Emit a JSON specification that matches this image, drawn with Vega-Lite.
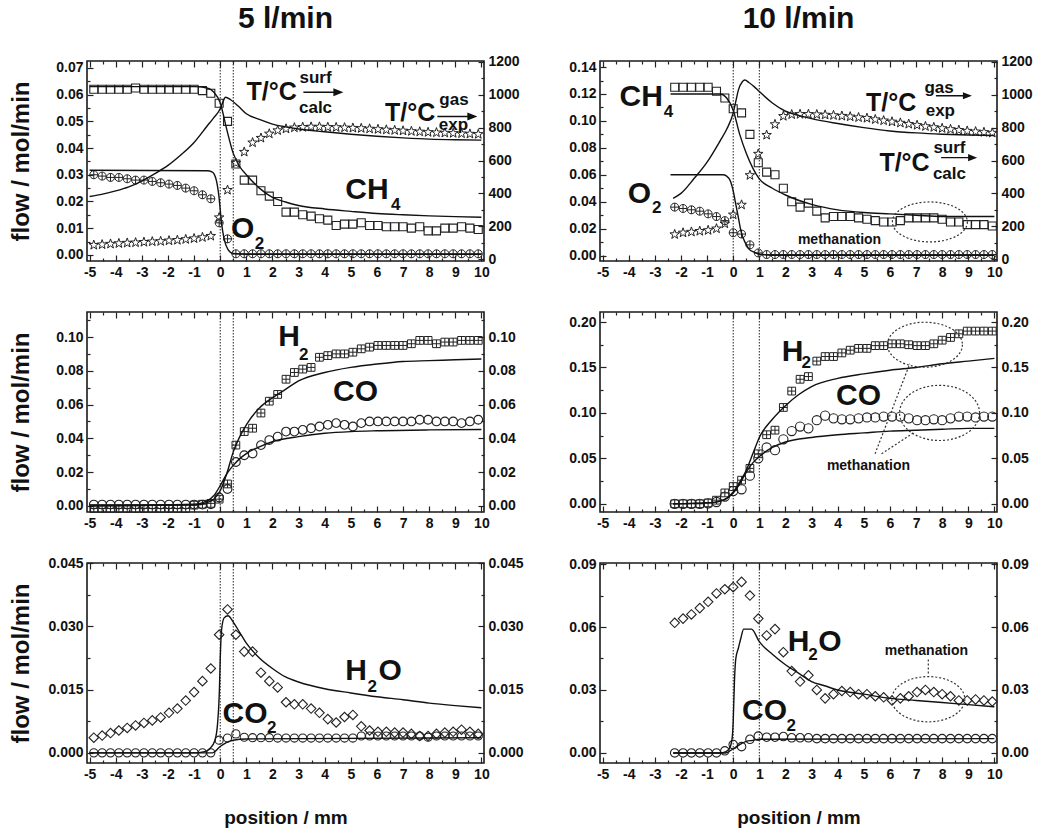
{
"$schema":"https://vega.github.io/schema/vega-lite/v6.json",
"background":"white",
"padding":{"left":8,"top":3,"right":5,"bottom":2},
"config":{"font":"Liberation Sans","view":{"stroke":"#1a1a1a","strokeWidth":1.6},
"axis":{"domain":false,"grid":false,"labelFont":"Liberation Sans","labelFontWeight":"bold","labelFontSize":14,"labelColor":"#111","tickColor":"#222","tickWidth":1.2,"titleFont":"Liberation Sans","titleFontWeight":"bold","titleFontSize":24,"titleColor":"#111"}},
"datasets":{
"e5":[
{"x":-4.84,"ch4":0.062,"o2":0.03,"tg":85,"h2":-0.0015,"co":0.0008,"h2o":0.0036,"co2":0},
{"x":-4.52,"ch4":0.062,"o2":0.0295,"tg":88,"h2":-0.0015,"co":0.0008,"h2o":0.0041,"co2":0},
{"x":-4.2,"ch4":0.062,"o2":0.029,"tg":92,"h2":-0.0015,"co":0.0008,"h2o":0.0047,"co2":0},
{"x":-3.88,"ch4":0.062,"o2":0.029,"tg":95,"h2":-0.0015,"co":0.0008,"h2o":0.0053,"co2":0},
{"x":-3.56,"ch4":0.062,"o2":0.0285,"tg":98,"h2":-0.0015,"co":0.0008,"h2o":0.0059,"co2":0},
{"x":-3.24,"ch4":0.0625,"o2":0.028,"tg":100,"h2":-0.0015,"co":0.0008,"h2o":0.0065,"co2":0},
{"x":-2.92,"ch4":0.062,"o2":0.028,"tg":103,"h2":-0.0015,"co":0.0008,"h2o":0.0071,"co2":0},
{"x":-2.6,"ch4":0.062,"o2":0.0275,"tg":106,"h2":-0.0015,"co":0.0008,"h2o":0.0077,"co2":0},
{"x":-2.28,"ch4":0.062,"o2":0.027,"tg":108,"h2":-0.0015,"co":0.0008,"h2o":0.0084,"co2":0},
{"x":-1.96,"ch4":0.062,"o2":0.0265,"tg":112,"h2":-0.0015,"co":0.0008,"h2o":0.0095,"co2":0},
{"x":-1.64,"ch4":0.062,"o2":0.026,"tg":115,"h2":-0.0015,"co":0.0008,"h2o":0.0105,"co2":0},
{"x":-1.32,"ch4":0.062,"o2":0.025,"tg":120,"h2":-0.0015,"co":0.0008,"h2o":0.0124,"co2":0},
{"x":-1,"ch4":0.062,"o2":0.024,"tg":125,"h2":0.0005,"co":0.0008,"h2o":0.0144,"co2":0},
{"x":-0.68,"ch4":0.0615,"o2":0.0225,"tg":132,"h2":0.001,"co":0.0008,"h2o":0.017,"co2":0},
{"x":-0.36,"ch4":0.0605,"o2":0.021,"tg":140,"h2":0.0015,"co":0.001,"h2o":0.02,"co2":0},
{"x":-0.04,"ch4":0.0568,"o2":0.012,"tg":253,"h2":0.004,"co":0.005,"h2o":0.028,"co2":0.003},
{"x":0.28,"ch4":0.05,"o2":0.006,"tg":420,"h2":0.013,"co":0.01,"h2o":0.034,"co2":0.0035},
{"x":0.6,"ch4":0.034,"o2":0.0004,"tg":585,"h2":0.036,"co":0.026,"h2o":0.028,"co2":0.0045},
{"x":0.92,"ch4":0.028,"o2":0.0004,"tg":652,"h2":0.044,"co":0.03,"h2o":0.024,"co2":0.0037},
{"x":1.24,"ch4":0.028,"o2":0.0004,"tg":709,"h2":0.046,"co":0.031,"h2o":0.024,"co2":0.0036},
{"x":1.56,"ch4":0.024,"o2":0.0004,"tg":737,"h2":0.055,"co":0.036,"h2o":0.019,"co2":0.0036},
{"x":1.88,"ch4":0.022,"o2":0.0004,"tg":763,"h2":0.062,"co":0.039,"h2o":0.017,"co2":0.0036},
{"x":2.2,"ch4":0.02,"o2":0.0004,"tg":783,"h2":0.066,"co":0.041,"h2o":0.0155,"co2":0.0035},
{"x":2.52,"ch4":0.016,"o2":0.0004,"tg":793,"h2":0.075,"co":0.044,"h2o":0.012,"co2":0.0035},
{"x":2.84,"ch4":0.016,"o2":0.0004,"tg":800,"h2":0.079,"co":0.044,"h2o":0.0115,"co2":0.0035},
{"x":3.16,"ch4":0.015,"o2":0.0004,"tg":803,"h2":0.081,"co":0.045,"h2o":0.0115,"co2":0.0035},
{"x":3.48,"ch4":0.0145,"o2":0.0004,"tg":805,"h2":0.082,"co":0.046,"h2o":0.0105,"co2":0.0035},
{"x":3.8,"ch4":0.0135,"o2":0.0004,"tg":805,"h2":0.088,"co":0.047,"h2o":0.0095,"co2":0.0035},
{"x":4.12,"ch4":0.013,"o2":0.0004,"tg":803,"h2":0.089,"co":0.048,"h2o":0.008,"co2":0.0035},
{"x":4.44,"ch4":0.011,"o2":0.0004,"tg":802,"h2":0.09,"co":0.049,"h2o":0.0072,"co2":0.0035},
{"x":4.76,"ch4":0.0115,"o2":0.0004,"tg":800,"h2":0.09,"co":0.048,"h2o":0.0085,"co2":0.0035},
{"x":5.08,"ch4":0.0115,"o2":0.0004,"tg":798,"h2":0.091,"co":0.047,"h2o":0.009,"co2":0.0035},
{"x":5.4,"ch4":0.012,"o2":0.0004,"tg":796,"h2":0.093,"co":0.049,"h2o":0.0063,"co2":0.004},
{"x":5.72,"ch4":0.011,"o2":0.0004,"tg":793,"h2":0.094,"co":0.05,"h2o":0.0053,"co2":0.004},
{"x":6.04,"ch4":0.011,"o2":0.0004,"tg":790,"h2":0.095,"co":0.05,"h2o":0.005,"co2":0.004},
{"x":6.36,"ch4":0.0105,"o2":0.0004,"tg":787,"h2":0.095,"co":0.05,"h2o":0.005,"co2":0.004},
{"x":6.68,"ch4":0.0105,"o2":0.0004,"tg":784,"h2":0.095,"co":0.05,"h2o":0.0048,"co2":0.004},
{"x":7,"ch4":0.0105,"o2":0.0004,"tg":781,"h2":0.095,"co":0.05,"h2o":0.0048,"co2":0.004},
{"x":7.32,"ch4":0.01,"o2":0.0004,"tg":778,"h2":0.096,"co":0.05,"h2o":0.0045,"co2":0.004},
{"x":7.64,"ch4":0.0105,"o2":0.0004,"tg":775,"h2":0.098,"co":0.051,"h2o":0.004,"co2":0.004},
{"x":7.96,"ch4":0.009,"o2":0.0004,"tg":772,"h2":0.098,"co":0.051,"h2o":0.004,"co2":0.0037},
{"x":8.28,"ch4":0.009,"o2":0.0004,"tg":770,"h2":0.096,"co":0.05,"h2o":0.0045,"co2":0.004},
{"x":8.6,"ch4":0.01,"o2":0.0004,"tg":768,"h2":0.097,"co":0.05,"h2o":0.0048,"co2":0.004},
{"x":8.92,"ch4":0.01,"o2":0.0004,"tg":766,"h2":0.097,"co":0.05,"h2o":0.005,"co2":0.004},
{"x":9.24,"ch4":0.0105,"o2":0.0004,"tg":764,"h2":0.098,"co":0.049,"h2o":0.0055,"co2":0.004},
{"x":9.56,"ch4":0.01,"o2":0.0004,"tg":762,"h2":0.098,"co":0.05,"h2o":0.005,"co2":0.004},
{"x":9.88,"ch4":0.0095,"o2":0.0004,"tg":760,"h2":0.098,"co":0.051,"h2o":0.0045,"co2":0.004}
],
"e10":[
{"x":-2.24,"ch4":0.125,"o2":0.036,"tg":150,"h2":0,"co":0,"h2o":0.062,"co2":0},
{"x":-1.92,"ch4":0.125,"o2":0.035,"tg":160,"h2":0,"co":0,"h2o":0.064,"co2":0},
{"x":-1.6,"ch4":0.125,"o2":0.034,"tg":165,"h2":0,"co":0,"h2o":0.066,"co2":0},
{"x":-1.28,"ch4":0.125,"o2":0.033,"tg":170,"h2":0,"co":0,"h2o":0.069,"co2":0},
{"x":-0.96,"ch4":0.125,"o2":0.031,"tg":175,"h2":0.001,"co":0.0005,"h2o":0.072,"co2":0},
{"x":-0.64,"ch4":0.122,"o2":0.029,"tg":185,"h2":0.004,"co":0.002,"h2o":0.076,"co2":0},
{"x":-0.32,"ch4":0.117,"o2":0.026,"tg":215,"h2":0.012,"co":0.008,"h2o":0.078,"co2":0.001},
{"x":0,"ch4":0.109,"o2":0.017,"tg":270,"h2":0.019,"co":0.014,"h2o":0.079,"co2":0.004},
{"x":0.32,"ch4":0.106,"o2":0.016,"tg":330,"h2":0.026,"co":0.016,"h2o":0.0815,"co2":0.003},
{"x":0.64,"ch4":0.09,"o2":0.008,"tg":510,"h2":0.039,"co":0.031,"h2o":0.075,"co2":0.0065},
{"x":0.96,"ch4":0.069,"o2":0.002,"tg":640,"h2":0.055,"co":0.05,"h2o":0.064,"co2":0.008},
{"x":1.28,"ch4":0.062,"o2":0.0008,"tg":755,"h2":0.076,"co":0.062,"h2o":0.056,"co2":0.0075},
{"x":1.6,"ch4":0.06,"o2":0.0008,"tg":820,"h2":0.081,"co":0.059,"h2o":0.059,"co2":0.0075},
{"x":1.92,"ch4":0.05,"o2":0.0008,"tg":870,"h2":0.106,"co":0.071,"h2o":0.048,"co2":0.0078},
{"x":2.24,"ch4":0.04,"o2":0.0008,"tg":880,"h2":0.124,"co":0.08,"h2o":0.039,"co2":0.0072},
{"x":2.56,"ch4":0.036,"o2":0.0008,"tg":882,"h2":0.137,"co":0.085,"h2o":0.034,"co2":0.0072},
{"x":2.88,"ch4":0.039,"o2":0.0008,"tg":882,"h2":0.14,"co":0.083,"h2o":0.037,"co2":0.0072},
{"x":3.2,"ch4":0.033,"o2":0.0008,"tg":880,"h2":0.157,"co":0.092,"h2o":0.03,"co2":0.0068},
{"x":3.52,"ch4":0.028,"o2":0.0008,"tg":878,"h2":0.162,"co":0.097,"h2o":0.026,"co2":0.0068},
{"x":3.84,"ch4":0.029,"o2":0.0008,"tg":875,"h2":0.162,"co":0.094,"h2o":0.028,"co2":0.0068},
{"x":4.16,"ch4":0.029,"o2":0.0008,"tg":871,"h2":0.166,"co":0.093,"h2o":0.0295,"co2":0.0068},
{"x":4.48,"ch4":0.029,"o2":0.0008,"tg":867,"h2":0.169,"co":0.093,"h2o":0.029,"co2":0.0068},
{"x":4.8,"ch4":0.028,"o2":0.0008,"tg":862,"h2":0.171,"co":0.094,"h2o":0.028,"co2":0.0068},
{"x":5.12,"ch4":0.027,"o2":0.0008,"tg":858,"h2":0.171,"co":0.095,"h2o":0.028,"co2":0.0068},
{"x":5.44,"ch4":0.026,"o2":0.0008,"tg":850,"h2":0.174,"co":0.095,"h2o":0.027,"co2":0.0068},
{"x":5.76,"ch4":0.025,"o2":0.0008,"tg":843,"h2":0.174,"co":0.096,"h2o":0.0265,"co2":0.0068},
{"x":6.08,"ch4":0.025,"o2":0.0008,"tg":836,"h2":0.176,"co":0.096,"h2o":0.025,"co2":0.0068},
{"x":6.4,"ch4":0.026,"o2":0.0008,"tg":829,"h2":0.176,"co":0.096,"h2o":0.026,"co2":0.0068},
{"x":6.72,"ch4":0.028,"o2":0.0008,"tg":822,"h2":0.175,"co":0.094,"h2o":0.027,"co2":0.0068},
{"x":7.04,"ch4":0.028,"o2":0.0008,"tg":815,"h2":0.174,"co":0.092,"h2o":0.029,"co2":0.0068},
{"x":7.36,"ch4":0.028,"o2":0.0008,"tg":808,"h2":0.174,"co":0.092,"h2o":0.03,"co2":0.0068},
{"x":7.68,"ch4":0.028,"o2":0.0008,"tg":802,"h2":0.176,"co":0.093,"h2o":0.029,"co2":0.0068},
{"x":8,"ch4":0.027,"o2":0.0008,"tg":796,"h2":0.18,"co":0.092,"h2o":0.028,"co2":0.0068},
{"x":8.32,"ch4":0.025,"o2":0.0008,"tg":790,"h2":0.183,"co":0.094,"h2o":0.027,"co2":0.0068},
{"x":8.64,"ch4":0.025,"o2":0.0008,"tg":785,"h2":0.187,"co":0.096,"h2o":0.025,"co2":0.0068},
{"x":8.96,"ch4":0.023,"o2":0.0008,"tg":780,"h2":0.19,"co":0.096,"h2o":0.025,"co2":0.0068},
{"x":9.28,"ch4":0.023,"o2":0.0008,"tg":776,"h2":0.19,"co":0.095,"h2o":0.0255,"co2":0.0068},
{"x":9.6,"ch4":0.023,"o2":0.0008,"tg":772,"h2":0.19,"co":0.096,"h2o":0.025,"co2":0.0068},
{"x":9.92,"ch4":0.022,"o2":0.0008,"tg":768,"h2":0.19,"co":0.096,"h2o":0.0245,"co2":0.0068}
],
"m5":[
{"s":"ch4","x":-5,"y":0.063},{"s":"ch4","x":-1,"y":0.063},{"s":"ch4","x":-0.5,"y":0.0625},{"s":"ch4","x":-0.25,"y":0.061},{"s":"ch4","x":0,"y":0.057},{"s":"ch4","x":0.25,"y":0.047},{"s":"ch4","x":0.5,"y":0.038},{"s":"ch4","x":0.75,"y":0.033},{"s":"ch4","x":1,"y":0.03},{"s":"ch4","x":1.5,"y":0.025},{"s":"ch4","x":2,"y":0.0215},{"s":"ch4","x":2.5,"y":0.0198},{"s":"ch4","x":3,"y":0.0185},{"s":"ch4","x":4,"y":0.0172},{"s":"ch4","x":5,"y":0.0163},{"s":"ch4","x":6,"y":0.0155},{"s":"ch4","x":7,"y":0.015},{"s":"ch4","x":8,"y":0.0146},{"s":"ch4","x":9,"y":0.0143},{"s":"ch4","x":10,"y":0.0141},
{"s":"o2","x":-5,"y":0.0317},{"s":"o2","x":-0.5,"y":0.0315},{"s":"o2","x":-0.3,"y":0.031},{"s":"o2","x":-0.15,"y":0.028},{"s":"o2","x":-0.05,"y":0.022},{"s":"o2","x":0.05,"y":0.012},{"s":"o2","x":0.15,"y":0.006},{"s":"o2","x":0.3,"y":0.002},{"s":"o2","x":0.5,"y":0.0005},{"s":"o2","x":1,"y":0.0002},{"s":"o2","x":10,"y":0.0002},
{"s":"ts","x":-5,"y":381},{"s":"ts","x":-4.5,"y":395},{"s":"ts","x":-4,"y":415},{"s":"ts","x":-3.5,"y":440},{"s":"ts","x":-3,"y":475},{"s":"ts","x":-2.5,"y":520},{"s":"ts","x":-2,"y":570},{"s":"ts","x":-1.5,"y":635},{"s":"ts","x":-1,"y":710},{"s":"ts","x":-0.5,"y":810},{"s":"ts","x":-0.25,"y":860},{"s":"ts","x":0,"y":915},{"s":"ts","x":0.1,"y":955},{"s":"ts","x":0.2,"y":985},{"s":"ts","x":0.4,"y":970},{"s":"ts","x":0.7,"y":930},{"s":"ts","x":1,"y":885},{"s":"ts","x":1.5,"y":850},{"s":"ts","x":2,"y":822},{"s":"ts","x":2.5,"y":805},{"s":"ts","x":3,"y":792},{"s":"ts","x":4,"y":775},{"s":"ts","x":5,"y":760},{"s":"ts","x":6,"y":748},{"s":"ts","x":7,"y":738},{"s":"ts","x":8,"y":730},{"s":"ts","x":9,"y":726},{"s":"ts","x":10,"y":724},
{"s":"h2","x":-5,"y":0},{"s":"h2","x":-1,"y":0.0005},{"s":"h2","x":-0.5,"y":0.002},{"s":"h2","x":-0.25,"y":0.004},{"s":"h2","x":0,"y":0.009},{"s":"h2","x":0.25,"y":0.019},{"s":"h2","x":0.5,"y":0.032},{"s":"h2","x":0.75,"y":0.041},{"s":"h2","x":1,"y":0.048},{"s":"h2","x":1.5,"y":0.058},{"s":"h2","x":2,"y":0.064},{"s":"h2","x":2.5,"y":0.069},{"s":"h2","x":3,"y":0.074},{"s":"h2","x":4,"y":0.079},{"s":"h2","x":5,"y":0.082},{"s":"h2","x":6,"y":0.084},{"s":"h2","x":7,"y":0.0855},{"s":"h2","x":8,"y":0.086},{"s":"h2","x":9,"y":0.0865},{"s":"h2","x":10,"y":0.087},
{"s":"co","x":-5,"y":0},{"s":"co","x":-1,"y":0.001},{"s":"co","x":-0.5,"y":0.003},{"s":"co","x":-0.25,"y":0.006},{"s":"co","x":0,"y":0.012},{"s":"co","x":0.25,"y":0.019},{"s":"co","x":0.5,"y":0.024},{"s":"co","x":0.75,"y":0.028},{"s":"co","x":1,"y":0.031},{"s":"co","x":1.5,"y":0.035},{"s":"co","x":2,"y":0.038},{"s":"co","x":3,"y":0.041},{"s":"co","x":4,"y":0.043},{"s":"co","x":5,"y":0.044},{"s":"co","x":6,"y":0.0445},{"s":"co","x":8,"y":0.045},{"s":"co","x":10,"y":0.0452},
{"s":"h2o","x":-5,"y":0},{"s":"h2o","x":-1,"y":0},{"s":"h2o","x":-0.6,"y":0.0003},{"s":"h2o","x":-0.4,"y":0.001},{"s":"h2o","x":-0.2,"y":0.003},{"s":"h2o","x":-0.1,"y":0.007},{"s":"h2o","x":-0.03,"y":0.015},{"s":"h2o","x":0,"y":0.022},{"s":"h2o","x":0.05,"y":0.029},{"s":"h2o","x":0.15,"y":0.032},{"s":"h2o","x":0.3,"y":0.0325},{"s":"h2o","x":0.5,"y":0.031},{"s":"h2o","x":0.75,"y":0.0285},{"s":"h2o","x":1,"y":0.026},{"s":"h2o","x":1.5,"y":0.0225},{"s":"h2o","x":2,"y":0.02},{"s":"h2o","x":2.5,"y":0.018},{"s":"h2o","x":3,"y":0.0168},{"s":"h2o","x":4,"y":0.0152},{"s":"h2o","x":5,"y":0.0142},{"s":"h2o","x":6,"y":0.0133},{"s":"h2o","x":7,"y":0.0126},{"s":"h2o","x":8,"y":0.0118},{"s":"h2o","x":9,"y":0.0112},{"s":"h2o","x":10,"y":0.0107},
{"s":"co2","x":-5,"y":0},{"s":"co2","x":-0.3,"y":0},{"s":"co2","x":0,"y":0.0015},{"s":"co2","x":0.25,"y":0.0025},{"s":"co2","x":0.5,"y":0.003},{"s":"co2","x":1,"y":0.0033},{"s":"co2","x":10,"y":0.0036}
],
"m10":[
{"s":"ch4","x":-2.4,"y":0.12},{"s":"ch4","x":-0.5,"y":0.12},{"s":"ch4","x":-0.25,"y":0.117},{"s":"ch4","x":0,"y":0.108},{"s":"ch4","x":0.25,"y":0.09},{"s":"ch4","x":0.5,"y":0.076},{"s":"ch4","x":0.75,"y":0.065},{"s":"ch4","x":1,"y":0.057},{"s":"ch4","x":1.5,"y":0.05},{"s":"ch4","x":2,"y":0.045},{"s":"ch4","x":3,"y":0.038},{"s":"ch4","x":4,"y":0.034},{"s":"ch4","x":5,"y":0.032},{"s":"ch4","x":6,"y":0.031},{"s":"ch4","x":7,"y":0.03},{"s":"ch4","x":8,"y":0.029},{"s":"ch4","x":9,"y":0.029},{"s":"ch4","x":10,"y":0.029},
{"s":"o2","x":-2.4,"y":0.06},{"s":"o2","x":-0.4,"y":0.06},{"s":"o2","x":-0.25,"y":0.059},{"s":"o2","x":-0.1,"y":0.055},{"s":"o2","x":0,"y":0.048},{"s":"o2","x":0.1,"y":0.038},{"s":"o2","x":0.2,"y":0.028},{"s":"o2","x":0.3,"y":0.018},{"s":"o2","x":0.45,"y":0.01},{"s":"o2","x":0.6,"y":0.005},{"s":"o2","x":0.8,"y":0.0025},{"s":"o2","x":1,"y":0.001},{"s":"o2","x":1.5,"y":0.0003},{"s":"o2","x":10,"y":0.0002},
{"s":"ts","x":-2.3,"y":370},{"s":"ts","x":-2,"y":400},{"s":"ts","x":-1.5,"y":490},{"s":"ts","x":-1,"y":590},{"s":"ts","x":-0.5,"y":720},{"s":"ts","x":-0.25,"y":790},{"s":"ts","x":0,"y":890},{"s":"ts","x":0.1,"y":960},{"s":"ts","x":0.2,"y":1030},{"s":"ts","x":0.35,"y":1080},{"s":"ts","x":0.45,"y":1090},{"s":"ts","x":0.6,"y":1075},{"s":"ts","x":0.8,"y":1050},{"s":"ts","x":1,"y":1020},{"s":"ts","x":1.5,"y":950},{"s":"ts","x":2,"y":900},{"s":"ts","x":2.5,"y":875},{"s":"ts","x":3,"y":855},{"s":"ts","x":4,"y":825},{"s":"ts","x":5,"y":800},{"s":"ts","x":6,"y":780},{"s":"ts","x":7,"y":768},{"s":"ts","x":8,"y":760},{"s":"ts","x":9,"y":755},{"s":"ts","x":10,"y":752},
{"s":"h2","x":-2.3,"y":0},{"s":"h2","x":-1,"y":0.001},{"s":"h2","x":-0.5,"y":0.003},{"s":"h2","x":-0.25,"y":0.006},{"s":"h2","x":0,"y":0.013},{"s":"h2","x":0.25,"y":0.024},{"s":"h2","x":0.5,"y":0.037},{"s":"h2","x":0.75,"y":0.055},{"s":"h2","x":1,"y":0.073},{"s":"h2","x":1.5,"y":0.093},{"s":"h2","x":2,"y":0.108},{"s":"h2","x":2.5,"y":0.12},{"s":"h2","x":3,"y":0.129},{"s":"h2","x":4,"y":0.138},{"s":"h2","x":5,"y":0.143},{"s":"h2","x":6,"y":0.147},{"s":"h2","x":7,"y":0.15},{"s":"h2","x":8,"y":0.154},{"s":"h2","x":9,"y":0.157},{"s":"h2","x":10,"y":0.16},
{"s":"co","x":-2.3,"y":0},{"s":"co","x":-1,"y":0.001},{"s":"co","x":-0.5,"y":0.003},{"s":"co","x":-0.25,"y":0.006},{"s":"co","x":0,"y":0.012},{"s":"co","x":0.25,"y":0.022},{"s":"co","x":0.5,"y":0.035},{"s":"co","x":0.75,"y":0.045},{"s":"co","x":1,"y":0.052},{"s":"co","x":1.5,"y":0.062},{"s":"co","x":2,"y":0.068},{"s":"co","x":3,"y":0.073},{"s":"co","x":4,"y":0.076},{"s":"co","x":5,"y":0.078},{"s":"co","x":6,"y":0.08},{"s":"co","x":7,"y":0.081},{"s":"co","x":8,"y":0.082},{"s":"co","x":9,"y":0.083},{"s":"co","x":10,"y":0.083},
{"s":"h2o","x":-2.3,"y":0},{"s":"h2o","x":-0.5,"y":0},{"s":"h2o","x":-0.3,"y":0.0005},{"s":"h2o","x":-0.15,"y":0.002},{"s":"h2o","x":-0.05,"y":0.006},{"s":"h2o","x":0,"y":0.015},{"s":"h2o","x":0.05,"y":0.035},{"s":"h2o","x":0.1,"y":0.045},{"s":"h2o","x":0.2,"y":0.05},{"s":"h2o","x":0.3,"y":0.055},{"s":"h2o","x":0.4,"y":0.059},{"s":"h2o","x":0.7,"y":0.059},{"s":"h2o","x":1,"y":0.053},{"s":"h2o","x":1.5,"y":0.047},{"s":"h2o","x":2,"y":0.042},{"s":"h2o","x":2.5,"y":0.038},{"s":"h2o","x":3,"y":0.034},{"s":"h2o","x":3.5,"y":0.032},{"s":"h2o","x":4,"y":0.03},{"s":"h2o","x":5,"y":0.028},{"s":"h2o","x":6,"y":0.026},{"s":"h2o","x":7,"y":0.025},{"s":"h2o","x":8,"y":0.024},{"s":"h2o","x":9,"y":0.023},{"s":"h2o","x":10,"y":0.022},
{"s":"co2","x":-2.3,"y":0},{"s":"co2","x":-0.3,"y":0},{"s":"co2","x":0,"y":0.002},{"s":"co2","x":0.25,"y":0.004},{"s":"co2","x":0.5,"y":0.0055},{"s":"co2","x":0.75,"y":0.006},{"s":"co2","x":1,"y":0.0065},{"s":"co2","x":10,"y":0.0068}
],
"lab":[
{"p":"TL","k":"T","x":1.97,"y":0.0609,"t":"T/°C"},{"p":"TL","k":"s","x":3.65,"y":0.0664,"t":"surf"},{"p":"TL","k":"s","x":3.65,"y":0.055,"t":"calc"},
{"p":"TL","k":"T","x":7.27,"y":0.053,"t":"T/°C"},{"p":"TL","k":"s","x":8.95,"y":0.058,"t":"gas"},{"p":"TL","k":"s","x":8.93,"y":0.0486,"t":"exp"},
{"p":"TL","k":"b","x":5.62,"y":0.0244,"t":"CH"},{"p":"TL","k":"s","x":6.72,"y":0.0187,"t":"4"},
{"p":"TL","k":"b","x":0.86,"y":0.0097,"t":"O"},{"p":"TL","k":"s","x":1.5,"y":0.0041,"t":"2"},
{"p":"TR","k":"b","x":-3.52,"y":0.118,"t":"CH"},{"p":"TR","k":"s","x":-2.48,"y":0.107,"t":"4"},
{"p":"TR","k":"b","x":-3.59,"y":0.0455,"t":"O"},{"p":"TR","k":"s","x":-2.93,"y":0.0352,"t":"2"},
{"p":"TR","k":"T","x":6.05,"y":0.113,"t":"T/°C"},{"p":"TR","k":"s","x":7.88,"y":0.1248,"t":"gas"},{"p":"TR","k":"s","x":7.93,"y":0.1072,"t":"exp"},
{"p":"TR","k":"T","x":6.56,"y":0.0688,"t":"T/°C"},{"p":"TR","k":"s","x":8.28,"y":0.0798,"t":"surf"},{"p":"TR","k":"s","x":8.28,"y":0.0607,"t":"calc"},
{"p":"TR","k":"m","x":4.07,"y":0.0115,"t":"methanation"},
{"p":"ML","k":"b","x":2.64,"y":0.1,"t":"H"},{"p":"ML","k":"s","x":3.2,"y":0.0893,"t":"2"},{"p":"ML","k":"b","x":5.18,"y":0.0673,"t":"CO"},
{"p":"MR","k":"b","x":2.27,"y":0.167,"t":"H"},{"p":"MR","k":"s","x":2.8,"y":0.155,"t":"2"},{"p":"MR","k":"b","x":4.8,"y":0.119,"t":"CO"},{"p":"MR","k":"m","x":5.18,"y":0.042,"t":"methanation"},
{"p":"BL","k":"b","x":5.2,"y":0.0193,"t":"H"},{"p":"BL","k":"s","x":5.82,"y":0.0157,"t":"2"},{"p":"BL","k":"b","x":6.51,"y":0.0193,"t":"O"},{"p":"BL","k":"b","x":0.95,"y":0.0091,"t":"CO"},{"p":"BL","k":"s","x":1.97,"y":0.0058,"t":"2"},
{"p":"BR","k":"b","x":2.5,"y":0.0527,"t":"H"},{"p":"BR","k":"s","x":3.05,"y":0.0468,"t":"2"},{"p":"BR","k":"b","x":3.7,"y":0.0527,"t":"O"},{"p":"BR","k":"b","x":1.2,"y":0.02,"t":"CO"},{"p":"BR","k":"s","x":2.22,"y":0.0126,"t":"2"},{"p":"BR","k":"m","x":7.4,"y":0.0484,"t":"methanation"}
]
},
"columns":2,
"spacing":{"row":51,"column":116},
"bounds":"flush",
"concat":[
{"width":397,"height":200,
"title":{"text":"5 l/min","fontSize":30,"font":"Liberation Sans","fontWeight":"bold","anchor":"middle","frame":"group","offset":21,"color":"#111"},
"resolve":{"scale":{"y":"independent"},"axis":{"x":"independent","y":"independent"}},
"layer":[
{"data":{"values":[{"x":0},{"x":0.5}]},"mark":{"type":"rule","strokeDash":[1.5,1.5],"color":"#222","strokeWidth":1},
"encoding":{"x":{"field":"x","type":"quantitative","scale":{"domain":[-5.1,10.1],"nice":false,"zero":false},"axis":{"orient":"bottom","values":[-5,-4.5,-4,-3.5,-3,-2.5,-2,-1.5,-1,-0.5,0,0.5,1,1.5,2,2.5,3,3.5,4,4.5,5,5.5,6,6.5,7,7.5,8,8.5,9,9.5,10],"labelExpr":"datum.value % 1 == 0 ? toString(datum.value) : ''","tickSize":{"condition":{"test":"datum.value % 1 == 0","value":-6},"value":-3},"labelPadding":10,"labelFlush":false,"labelOverlap":false,"title":null}}}},
{"data":{"name":"e5"},"mark":{"type":"point","shape":"square","size":64,"filled":false,"color":"#222","opacity":1,"strokeWidth":1.1},
"encoding":{"x":{"field":"x","type":"quantitative","scale":{"domain":[-5.1,10.1],"nice":false,"zero":false},"axis":{"orient":"top","values":[-5,-4.5,-4,-3.5,-3,-2.5,-2,-1.5,-1,-0.5,0,0.5,1,1.5,2,2.5,3,3.5,4,4.5,5,5.5,6,6.5,7,7.5,8,8.5,9,9.5,10],"labels":false,"tickSize":{"condition":{"test":"datum.value % 1 == 0","value":-6},"value":-3},"title":null}},
"y":{"field":"ch4","type":"quantitative","scale":{"domain":[-0.0023,0.0726],"nice":false,"zero":false},"axis":{"orient":"left","values":[0,0.005,0.01,0.015,0.02,0.025,0.03,0.035,0.04,0.045,0.05,0.055,0.06,0.065,0.07],"format":".2f","labelExpr":"round(datum.value*1000) % 10 == 0 ? datum.label : ''","tickSize":{"condition":{"test":"round(datum.value*1000) % 10 == 0","value":-6},"value":-3},"labelPadding":10,"labelOverlap":false,"title":"flow / mol/min","titlePadding":22}}}},
{"data":{"name":"e5"},"mark":{"type":"point","shape":"M-1,0 C-1,-0.5523 -0.5523,-1 0,-1 C0.5523,-1 1,-0.5523 1,0 C1,0.5523 0.5523,1 0,1 C-0.5523,1 -1,0.5523 -1,0 Z M-1,0 L1,0 M0,-1 L0,1","size":64,"filled":false,"color":"#222","opacity":1,"strokeWidth":1},
"encoding":{"x":{"field":"x","type":"quantitative","scale":{"domain":[-5.1,10.1],"nice":false,"zero":false},"axis":null},"y":{"field":"o2","type":"quantitative","scale":{"domain":[-0.0023,0.0726],"nice":false,"zero":false},"axis":null}}},
{"data":{"name":"m5"},"transform":[{"filter":"datum.s=='ch4' || datum.s=='o2'"}],"mark":{"type":"line","color":"#111","strokeWidth":1.4,"interpolate":"monotone"},
"encoding":{"x":{"field":"x","type":"quantitative","scale":{"domain":[-5.1,10.1],"nice":false,"zero":false},"axis":null},"y":{"field":"y","type":"quantitative","scale":{"domain":[-0.0023,0.0726],"nice":false,"zero":false},"axis":null},"detail":{"field":"s"}}},
{"data":{"name":"e5"},"mark":{"type":"point","shape":"M0,-1 L0.235,-0.324 L0.951,-0.309 L0.38,0.124 L0.588,0.809 L0,0.4 L-0.588,0.809 L-0.38,0.124 L-0.951,-0.309 L-0.235,-0.324 Z","size":100,"filled":false,"color":"#222","opacity":1,"strokeWidth":1},
"encoding":{"x":{"field":"x","type":"quantitative","scale":{"domain":[-5.1,10.1],"nice":false,"zero":false},"axis":null},"y":{"field":"tg","type":"quantitative","scale":{"domain":[-12,1206],"nice":false,"zero":false},"axis":{"orient":"right","values":[0,100,200,300,400,500,600,700,800,900,1000,1100,1200],"format":"d","labelExpr":"datum.value % 200 == 0 ? datum.label : ''","tickSize":{"condition":{"test":"datum.value % 200 == 0","value":-6},"value":-3},"labelPadding":10,"labelOverlap":false,"title":null}}}},
{"data":{"name":"m5"},"transform":[{"filter":"datum.s=='ts'"}],"mark":{"type":"line","color":"#111","strokeWidth":1.4,"interpolate":"monotone"},
"encoding":{"x":{"field":"x","type":"quantitative","scale":{"domain":[-5.1,10.1],"nice":false,"zero":false},"axis":null},"y":{"field":"y","type":"quantitative","scale":{"domain":[-12,1206],"nice":false,"zero":false},"axis":null}}},
{"data":{"name":"lab"},"transform":[{"filter":"datum.p=='TL' && datum.k=='b'"}],"mark":{"type":"text","font":"Liberation Sans","fontWeight":"bold","fontSize":30,"color":"#111","align":"center","baseline":"middle"},
"encoding":{"x":{"field":"x","type":"quantitative","scale":{"domain":[-5.1,10.1],"nice":false,"zero":false},"axis":null},"y":{"field":"y","type":"quantitative","scale":{"domain":[-0.0023,0.0726],"nice":false,"zero":false},"axis":null},"text":{"field":"t"}}},
{"data":{"name":"lab"},"transform":[{"filter":"datum.p=='TL' && datum.k=='T'"}],"mark":{"type":"text","font":"Liberation Sans","fontWeight":"bold","fontSize":25,"color":"#111","align":"center","baseline":"middle"},
"encoding":{"x":{"field":"x","type":"quantitative","scale":{"domain":[-5.1,10.1],"nice":false,"zero":false},"axis":null},"y":{"field":"y","type":"quantitative","scale":{"domain":[-0.0023,0.0726],"nice":false,"zero":false},"axis":null},"text":{"field":"t"}}},
{"data":{"name":"lab"},"transform":[{"filter":"datum.p=='TL' && datum.k=='s'"}],"mark":{"type":"text","font":"Liberation Sans","fontWeight":"bold","fontSize":17,"color":"#111","align":"center","baseline":"middle"},
"encoding":{"x":{"field":"x","type":"quantitative","scale":{"domain":[-5.1,10.1],"nice":false,"zero":false},"axis":null},"y":{"field":"y","type":"quantitative","scale":{"domain":[-0.0023,0.0726],"nice":false,"zero":false},"axis":null},"text":{"field":"t"}}},
{"data":{"values":[{"x":3.95,"y":0.0609},{"x":9.08,"y":0.0518}]},"mark":{"type":"point","shape":"M-1,-0.035 L0.5,-0.035 L0.5,-0.2 L1,0 L0.5,0.2 L0.5,0.035 L-1,0.035 Z","size":1600,"filled":true,"color":"#111","opacity":1,"strokeWidth":0},
"encoding":{"x":{"field":"x","type":"quantitative","scale":{"domain":[-5.1,10.1],"nice":false,"zero":false},"axis":null},"y":{"field":"y","type":"quantitative","scale":{"domain":[-0.0023,0.0726],"nice":false,"zero":false},"axis":null}}}
]},
{"width":397,"height":200,
"title":{"text":"10 l/min","fontSize":30,"font":"Liberation Sans","fontWeight":"bold","anchor":"middle","frame":"group","offset":21,"color":"#111"},
"resolve":{"scale":{"y":"independent"},"axis":{"x":"independent","y":"independent"}},
"layer":[
{"data":{"values":[{"x":0},{"x":1}]},"mark":{"type":"rule","strokeDash":[1.5,1.5],"color":"#222","strokeWidth":1},
"encoding":{"x":{"field":"x","type":"quantitative","scale":{"domain":[-5.1,10.1],"nice":false,"zero":false},"axis":{"orient":"bottom","values":[-5,-4.5,-4,-3.5,-3,-2.5,-2,-1.5,-1,-0.5,0,0.5,1,1.5,2,2.5,3,3.5,4,4.5,5,5.5,6,6.5,7,7.5,8,8.5,9,9.5,10],"labelExpr":"datum.value % 1 == 0 ? toString(datum.value) : ''","tickSize":{"condition":{"test":"datum.value % 1 == 0","value":-6},"value":-3},"labelPadding":10,"labelFlush":false,"labelOverlap":false,"title":null}}}},
{"data":{"name":"e10"},"mark":{"type":"point","shape":"square","size":64,"filled":false,"color":"#222","opacity":1,"strokeWidth":1.1},
"encoding":{"x":{"field":"x","type":"quantitative","scale":{"domain":[-5.1,10.1],"nice":false,"zero":false},"axis":{"orient":"top","values":[-5,-4.5,-4,-3.5,-3,-2.5,-2,-1.5,-1,-0.5,0,0.5,1,1.5,2,2.5,3,3.5,4,4.5,5,5.5,6,6.5,7,7.5,8,8.5,9,9.5,10],"labels":false,"tickSize":{"condition":{"test":"datum.value % 1 == 0","value":-6},"value":-3},"title":null}},
"y":{"field":"ch4","type":"quantitative","scale":{"domain":[-0.004,0.1445],"nice":false,"zero":false},"axis":{"orient":"left","values":[0,0.01,0.02,0.03,0.04,0.05,0.06,0.07,0.08,0.09,0.1,0.11,0.12,0.13,0.14],"format":".2f","labelExpr":"round(datum.value*100) % 2 == 0 ? datum.label : ''","tickSize":{"condition":{"test":"round(datum.value*100) % 2 == 0","value":-6},"value":-3},"labelPadding":10,"labelOverlap":false,"title":null}}}},
{"data":{"name":"e10"},"mark":{"type":"point","shape":"M-1,0 C-1,-0.5523 -0.5523,-1 0,-1 C0.5523,-1 1,-0.5523 1,0 C1,0.5523 0.5523,1 0,1 C-0.5523,1 -1,0.5523 -1,0 Z M-1,0 L1,0 M0,-1 L0,1","size":64,"filled":false,"color":"#222","opacity":1,"strokeWidth":1},
"encoding":{"x":{"field":"x","type":"quantitative","scale":{"domain":[-5.1,10.1],"nice":false,"zero":false},"axis":null},"y":{"field":"o2","type":"quantitative","scale":{"domain":[-0.004,0.1445],"nice":false,"zero":false},"axis":null}}},
{"data":{"name":"m10"},"transform":[{"filter":"datum.s=='ch4' || datum.s=='o2'"}],"mark":{"type":"line","color":"#111","strokeWidth":1.4,"interpolate":"monotone"},
"encoding":{"x":{"field":"x","type":"quantitative","scale":{"domain":[-5.1,10.1],"nice":false,"zero":false},"axis":null},"y":{"field":"y","type":"quantitative","scale":{"domain":[-0.004,0.1445],"nice":false,"zero":false},"axis":null},"detail":{"field":"s"}}},
{"data":{"name":"e10"},"mark":{"type":"point","shape":"M0,-1 L0.235,-0.324 L0.951,-0.309 L0.38,0.124 L0.588,0.809 L0,0.4 L-0.588,0.809 L-0.38,0.124 L-0.951,-0.309 L-0.235,-0.324 Z","size":100,"filled":false,"color":"#222","opacity":1,"strokeWidth":1},
"encoding":{"x":{"field":"x","type":"quantitative","scale":{"domain":[-5.1,10.1],"nice":false,"zero":false},"axis":null},"y":{"field":"tg","type":"quantitative","scale":{"domain":[-12,1206],"nice":false,"zero":false},"axis":{"orient":"right","values":[0,100,200,300,400,500,600,700,800,900,1000,1100,1200],"format":"d","labelExpr":"datum.value % 200 == 0 ? datum.label : ''","tickSize":{"condition":{"test":"datum.value % 200 == 0","value":-6},"value":-3},"labelPadding":10,"labelOverlap":false,"title":null}}}},
{"data":{"name":"m10"},"transform":[{"filter":"datum.s=='ts'"}],"mark":{"type":"line","color":"#111","strokeWidth":1.4,"interpolate":"monotone"},
"encoding":{"x":{"field":"x","type":"quantitative","scale":{"domain":[-5.1,10.1],"nice":false,"zero":false},"axis":null},"y":{"field":"y","type":"quantitative","scale":{"domain":[-12,1206],"nice":false,"zero":false},"axis":null}}},
{"data":{"name":"lab"},"transform":[{"filter":"datum.p=='TR' && datum.k=='b'"}],"mark":{"type":"text","font":"Liberation Sans","fontWeight":"bold","fontSize":30,"color":"#111","align":"center","baseline":"middle"},
"encoding":{"x":{"field":"x","type":"quantitative","scale":{"domain":[-5.1,10.1],"nice":false,"zero":false},"axis":null},"y":{"field":"y","type":"quantitative","scale":{"domain":[-0.004,0.1445],"nice":false,"zero":false},"axis":null},"text":{"field":"t"}}},
{"data":{"name":"lab"},"transform":[{"filter":"datum.p=='TR' && datum.k=='T'"}],"mark":{"type":"text","font":"Liberation Sans","fontWeight":"bold","fontSize":25,"color":"#111","align":"center","baseline":"middle"},
"encoding":{"x":{"field":"x","type":"quantitative","scale":{"domain":[-5.1,10.1],"nice":false,"zero":false},"axis":null},"y":{"field":"y","type":"quantitative","scale":{"domain":[-0.004,0.1445],"nice":false,"zero":false},"axis":null},"text":{"field":"t"}}},
{"data":{"name":"lab"},"transform":[{"filter":"datum.p=='TR' && datum.k=='s'"}],"mark":{"type":"text","font":"Liberation Sans","fontWeight":"bold","fontSize":17,"color":"#111","align":"center","baseline":"middle"},
"encoding":{"x":{"field":"x","type":"quantitative","scale":{"domain":[-5.1,10.1],"nice":false,"zero":false},"axis":null},"y":{"field":"y","type":"quantitative","scale":{"domain":[-0.004,0.1445],"nice":false,"zero":false},"axis":null},"text":{"field":"t"}}},
{"data":{"name":"lab"},"transform":[{"filter":"datum.p=='TR' && datum.k=='m'"}],"mark":{"type":"text","font":"Liberation Sans","fontWeight":"bold","fontSize":14,"color":"#111","align":"center","baseline":"middle"},
"encoding":{"x":{"field":"x","type":"quantitative","scale":{"domain":[-5.1,10.1],"nice":false,"zero":false},"axis":null},"y":{"field":"y","type":"quantitative","scale":{"domain":[-0.004,0.1445],"nice":false,"zero":false},"axis":null},"text":{"field":"t"}}},
{"data":{"values":[{"x":8.45,"y":0.1187},{"x":8.65,"y":0.0727}]},"mark":{"type":"point","shape":"M-1,-0.035 L0.5,-0.035 L0.5,-0.2 L1,0 L0.5,0.2 L0.5,0.035 L-1,0.035 Z","size":1296,"filled":true,"color":"#111","opacity":1,"strokeWidth":0},
"encoding":{"x":{"field":"x","type":"quantitative","scale":{"domain":[-5.1,10.1],"nice":false,"zero":false},"axis":null},"y":{"field":"y","type":"quantitative","scale":{"domain":[-0.004,0.1445],"nice":false,"zero":false},"axis":null}}},
{"data":{"values":[{"x":7.53,"y":0.025}]},"mark":{"type":"point","shape":"M1,0 C1,0.2944 0.5523,0.533 0,0.533 C-0.5523,0.533 -1,0.2944 -1,0 C-1,-0.2944 -0.5523,-0.533 0,-0.533 C0.5523,-0.533 1,-0.2944 1,0 Z","size":5625,"filled":false,"color":"#333","opacity":1,"strokeWidth":1.2,"strokeDash":[2,2]},
"encoding":{"x":{"field":"x","type":"quantitative","scale":{"domain":[-5.1,10.1],"nice":false,"zero":false},"axis":null},"y":{"field":"y","type":"quantitative","scale":{"domain":[-0.004,0.1445],"nice":false,"zero":false},"axis":null}}}
]},
{"width":397,"height":200,
"resolve":{"scale":{"y":"independent"},"axis":{"x":"independent","y":"independent"}},
"layer":[
{"data":{"values":[{"x":0},{"x":0.5}]},"mark":{"type":"rule","strokeDash":[1.5,1.5],"color":"#222","strokeWidth":1},
"encoding":{"x":{"field":"x","type":"quantitative","scale":{"domain":[-5.1,10.1],"nice":false,"zero":false},"axis":{"orient":"bottom","values":[-5,-4.5,-4,-3.5,-3,-2.5,-2,-1.5,-1,-0.5,0,0.5,1,1.5,2,2.5,3,3.5,4,4.5,5,5.5,6,6.5,7,7.5,8,8.5,9,9.5,10],"labelExpr":"datum.value % 1 == 0 ? toString(datum.value) : ''","tickSize":{"condition":{"test":"datum.value % 1 == 0","value":-6},"value":-3},"labelPadding":10,"labelFlush":false,"labelOverlap":false,"title":null}}}},
{"data":{"name":"e5"},"mark":{"type":"point","shape":"M-1,-1 L1,-1 L1,1 L-1,1 Z M-1,0 L1,0 M0,-1 L0,1","size":60,"filled":false,"color":"#222","opacity":1,"strokeWidth":1},
"encoding":{"x":{"field":"x","type":"quantitative","scale":{"domain":[-5.1,10.1],"nice":false,"zero":false},"axis":{"orient":"top","values":[-5,-4.5,-4,-3.5,-3,-2.5,-2,-1.5,-1,-0.5,0,0.5,1,1.5,2,2.5,3,3.5,4,4.5,5,5.5,6,6.5,7,7.5,8,8.5,9,9.5,10],"labels":false,"tickSize":{"condition":{"test":"datum.value % 1 == 0","value":-6},"value":-3},"title":null}},
"y":{"field":"h2","type":"quantitative","scale":{"domain":[-0.0036,0.1148],"nice":false,"zero":false},"axis":{"orient":"left","values":[0,0.01,0.02,0.03,0.04,0.05,0.06,0.07,0.08,0.09,0.1,0.11],"format":".2f","labelExpr":"round(datum.value*100) % 2 == 0 ? datum.label : ''","tickSize":{"condition":{"test":"round(datum.value*100) % 2 == 0","value":-6},"value":-3},"labelPadding":10,"labelOverlap":false,"title":"flow / mol/min","titlePadding":22}}}},
{"data":{"name":"e5"},"mark":{"type":"point","shape":"circle","size":76,"filled":false,"color":"#222","opacity":1,"strokeWidth":1.1},
"encoding":{"x":{"field":"x","type":"quantitative","scale":{"domain":[-5.1,10.1],"nice":false,"zero":false},"axis":null},"y":{"field":"co","type":"quantitative","scale":{"domain":[-0.0036,0.1148],"nice":false,"zero":false},"axis":{"orient":"right","values":[0,0.01,0.02,0.03,0.04,0.05,0.06,0.07,0.08,0.09,0.1,0.11],"format":".2f","labelExpr":"round(datum.value*100) % 2 == 0 ? datum.label : ''","tickSize":{"condition":{"test":"round(datum.value*100) % 2 == 0","value":-6},"value":-3},"labelPadding":10,"labelOverlap":false,"title":null}}}},
{"data":{"name":"m5"},"transform":[{"filter":"datum.s=='h2' || datum.s=='co'"}],"mark":{"type":"line","color":"#111","strokeWidth":1.4,"interpolate":"monotone"},
"encoding":{"x":{"field":"x","type":"quantitative","scale":{"domain":[-5.1,10.1],"nice":false,"zero":false},"axis":null},"y":{"field":"y","type":"quantitative","scale":{"domain":[-0.0036,0.1148],"nice":false,"zero":false},"axis":null},"detail":{"field":"s"}}},
{"data":{"name":"lab"},"transform":[{"filter":"datum.p=='ML' && datum.k=='b'"}],"mark":{"type":"text","font":"Liberation Sans","fontWeight":"bold","fontSize":30,"color":"#111","align":"center","baseline":"middle"},
"encoding":{"x":{"field":"x","type":"quantitative","scale":{"domain":[-5.1,10.1],"nice":false,"zero":false},"axis":null},"y":{"field":"y","type":"quantitative","scale":{"domain":[-0.0036,0.1148],"nice":false,"zero":false},"axis":null},"text":{"field":"t"}}},
{"data":{"name":"lab"},"transform":[{"filter":"datum.p=='ML' && datum.k=='s'"}],"mark":{"type":"text","font":"Liberation Sans","fontWeight":"bold","fontSize":17,"color":"#111","align":"center","baseline":"middle"},
"encoding":{"x":{"field":"x","type":"quantitative","scale":{"domain":[-5.1,10.1],"nice":false,"zero":false},"axis":null},"y":{"field":"y","type":"quantitative","scale":{"domain":[-0.0036,0.1148],"nice":false,"zero":false},"axis":null},"text":{"field":"t"}}}
]},
{"width":397,"height":200,
"resolve":{"scale":{"y":"independent"},"axis":{"x":"independent","y":"independent"}},
"layer":[
{"data":{"values":[{"x":0},{"x":1}]},"mark":{"type":"rule","strokeDash":[1.5,1.5],"color":"#222","strokeWidth":1},
"encoding":{"x":{"field":"x","type":"quantitative","scale":{"domain":[-5.1,10.1],"nice":false,"zero":false},"axis":{"orient":"bottom","values":[-5,-4.5,-4,-3.5,-3,-2.5,-2,-1.5,-1,-0.5,0,0.5,1,1.5,2,2.5,3,3.5,4,4.5,5,5.5,6,6.5,7,7.5,8,8.5,9,9.5,10],"labelExpr":"datum.value % 1 == 0 ? toString(datum.value) : ''","tickSize":{"condition":{"test":"datum.value % 1 == 0","value":-6},"value":-3},"labelPadding":10,"labelFlush":false,"labelOverlap":false,"title":null}}}},
{"data":{"name":"e10"},"mark":{"type":"point","shape":"M-1,-1 L1,-1 L1,1 L-1,1 Z M-1,0 L1,0 M0,-1 L0,1","size":60,"filled":false,"color":"#222","opacity":1,"strokeWidth":1},
"encoding":{"x":{"field":"x","type":"quantitative","scale":{"domain":[-5.1,10.1],"nice":false,"zero":false},"axis":{"orient":"top","values":[-5,-4.5,-4,-3.5,-3,-2.5,-2,-1.5,-1,-0.5,0,0.5,1,1.5,2,2.5,3,3.5,4,4.5,5,5.5,6,6.5,7,7.5,8,8.5,9,9.5,10],"labels":false,"tickSize":{"condition":{"test":"datum.value % 1 == 0","value":-6},"value":-3},"title":null}},
"y":{"field":"h2","type":"quantitative","scale":{"domain":[-0.009,0.211],"nice":false,"zero":false},"axis":{"orient":"left","values":[0,0.025,0.05,0.075,0.1,0.125,0.15,0.175,0.2],"format":".2f","labelExpr":"round(datum.value*1000) % 50 == 0 ? datum.label : ''","tickSize":{"condition":{"test":"round(datum.value*1000) % 50 == 0","value":-6},"value":-3},"labelPadding":10,"labelOverlap":false,"title":null}}}},
{"data":{"name":"e10"},"mark":{"type":"point","shape":"circle","size":84,"filled":false,"color":"#222","opacity":1,"strokeWidth":1.1},
"encoding":{"x":{"field":"x","type":"quantitative","scale":{"domain":[-5.1,10.1],"nice":false,"zero":false},"axis":null},"y":{"field":"co","type":"quantitative","scale":{"domain":[-0.009,0.211],"nice":false,"zero":false},"axis":{"orient":"right","values":[0,0.025,0.05,0.075,0.1,0.125,0.15,0.175,0.2],"format":".2f","labelExpr":"round(datum.value*1000) % 50 == 0 ? datum.label : ''","tickSize":{"condition":{"test":"round(datum.value*1000) % 50 == 0","value":-6},"value":-3},"labelPadding":10,"labelOverlap":false,"title":null}}}},
{"data":{"name":"m10"},"transform":[{"filter":"datum.s=='h2' || datum.s=='co'"}],"mark":{"type":"line","color":"#111","strokeWidth":1.4,"interpolate":"monotone"},
"encoding":{"x":{"field":"x","type":"quantitative","scale":{"domain":[-5.1,10.1],"nice":false,"zero":false},"axis":null},"y":{"field":"y","type":"quantitative","scale":{"domain":[-0.009,0.211],"nice":false,"zero":false},"axis":null},"detail":{"field":"s"}}},
{"data":{"name":"lab"},"transform":[{"filter":"datum.p=='MR' && datum.k=='b'"}],"mark":{"type":"text","font":"Liberation Sans","fontWeight":"bold","fontSize":30,"color":"#111","align":"center","baseline":"middle"},
"encoding":{"x":{"field":"x","type":"quantitative","scale":{"domain":[-5.1,10.1],"nice":false,"zero":false},"axis":null},"y":{"field":"y","type":"quantitative","scale":{"domain":[-0.009,0.211],"nice":false,"zero":false},"axis":null},"text":{"field":"t"}}},
{"data":{"name":"lab"},"transform":[{"filter":"datum.p=='MR' && datum.k=='s'"}],"mark":{"type":"text","font":"Liberation Sans","fontWeight":"bold","fontSize":17,"color":"#111","align":"center","baseline":"middle"},
"encoding":{"x":{"field":"x","type":"quantitative","scale":{"domain":[-5.1,10.1],"nice":false,"zero":false},"axis":null},"y":{"field":"y","type":"quantitative","scale":{"domain":[-0.009,0.211],"nice":false,"zero":false},"axis":null},"text":{"field":"t"}}},
{"data":{"name":"lab"},"transform":[{"filter":"datum.p=='MR' && datum.k=='m'"}],"mark":{"type":"text","font":"Liberation Sans","fontWeight":"bold","fontSize":14,"color":"#111","align":"center","baseline":"middle"},
"encoding":{"x":{"field":"x","type":"quantitative","scale":{"domain":[-5.1,10.1],"nice":false,"zero":false},"axis":null},"y":{"field":"y","type":"quantitative","scale":{"domain":[-0.009,0.211],"nice":false,"zero":false},"axis":null},"text":{"field":"t"}}},
{"data":{"values":[{"x":7.34,"y":0.175}]},"mark":{"type":"point","shape":"M1,0 C1,0.3314 0.5523,0.6 0,0.6 C-0.5523,0.6 -1,0.3314 -1,0 C-1,-0.3314 -0.5523,-0.6 0,-0.6 C0.5523,-0.6 1,-0.3314 1,0 Z","size":5625,"filled":false,"color":"#333","opacity":1,"strokeWidth":1.2,"strokeDash":[2,2]},
"encoding":{"x":{"field":"x","type":"quantitative","scale":{"domain":[-5.1,10.1],"nice":false,"zero":false},"axis":null},"y":{"field":"y","type":"quantitative","scale":{"domain":[-0.009,0.211],"nice":false,"zero":false},"axis":null}}},
{"data":{"values":[{"x":7.9,"y":0.1}]},"mark":{"type":"point","shape":"M1,0 C1,0.3811 0.5523,0.69 0,0.69 C-0.5523,0.69 -1,0.3811 -1,0 C-1,-0.3811 -0.5523,-0.69 0,-0.69 C0.5523,-0.69 1,-0.3811 1,0 Z","size":6400,"filled":false,"color":"#333","opacity":1,"strokeWidth":1.2,"strokeDash":[2,2]},
"encoding":{"x":{"field":"x","type":"quantitative","scale":{"domain":[-5.1,10.1],"nice":false,"zero":false},"axis":null},"y":{"field":"y","type":"quantitative","scale":{"domain":[-0.009,0.211],"nice":false,"zero":false},"axis":null}}},
{"data":{"values":[{"x":5.43,"y":0.055,"x2":6.76,"y2":0.154},{"x":5.68,"y":0.055,"x2":6.95,"y2":0.079}]},"mark":{"type":"rule","strokeDash":[2,2],"color":"#333","strokeWidth":1.2},
"encoding":{"x":{"field":"x","type":"quantitative","scale":{"domain":[-5.1,10.1],"nice":false,"zero":false},"axis":null},"y":{"field":"y","type":"quantitative","scale":{"domain":[-0.009,0.211],"nice":false,"zero":false},"axis":null},"x2":{"field":"x2"},"y2":{"field":"y2"}}}
]},
{"width":397,"height":200,
"resolve":{"scale":{"y":"independent"},"axis":{"x":"independent","y":"independent"}},
"layer":[
{"data":{"values":[{"x":0},{"x":0.5}]},"mark":{"type":"rule","strokeDash":[1.5,1.5],"color":"#222","strokeWidth":1},
"encoding":{"x":{"field":"x","type":"quantitative","scale":{"domain":[-5.1,10.1],"nice":false,"zero":false},"axis":{"orient":"bottom","values":[-5,-4.5,-4,-3.5,-3,-2.5,-2,-1.5,-1,-0.5,0,0.5,1,1.5,2,2.5,3,3.5,4,4.5,5,5.5,6,6.5,7,7.5,8,8.5,9,9.5,10],"labelExpr":"datum.value % 1 == 0 ? toString(datum.value) : ''","tickSize":{"condition":{"test":"datum.value % 1 == 0","value":-6},"value":-3},"labelPadding":10,"labelFlush":false,"labelOverlap":false,"title":"position / mm","titleFontSize":19,"titlePadding":24}}}},
{"data":{"name":"e5"},"mark":{"type":"point","shape":"diamond","size":90,"filled":false,"color":"#222","opacity":1,"strokeWidth":1.1},
"encoding":{"x":{"field":"x","type":"quantitative","scale":{"domain":[-5.1,10.1],"nice":false,"zero":false},"axis":{"orient":"top","values":[-5,-4.5,-4,-3.5,-3,-2.5,-2,-1.5,-1,-0.5,0,0.5,1,1.5,2,2.5,3,3.5,4,4.5,5,5.5,6,6.5,7,7.5,8,8.5,9,9.5,10],"labels":false,"tickSize":{"condition":{"test":"datum.value % 1 == 0","value":-6},"value":-3},"title":null}},
"y":{"field":"h2o","type":"quantitative","scale":{"domain":[-0.0024,0.045],"nice":false,"zero":false},"axis":{"orient":"left","values":[0,0.0075,0.015,0.0225,0.03,0.0375,0.045],"format":".3f","labelExpr":"round(datum.value*10000) % 150 == 0 ? datum.label : ''","tickSize":{"condition":{"test":"round(datum.value*10000) % 150 == 0","value":-6},"value":-3},"labelPadding":10,"labelOverlap":false,"title":"flow / mol/min","titlePadding":14}}}},
{"data":{"name":"e5"},"mark":{"type":"point","shape":"circle","size":66,"filled":false,"color":"#222","opacity":1,"strokeWidth":1.1},
"encoding":{"x":{"field":"x","type":"quantitative","scale":{"domain":[-5.1,10.1],"nice":false,"zero":false},"axis":null},"y":{"field":"co2","type":"quantitative","scale":{"domain":[-0.0024,0.045],"nice":false,"zero":false},"axis":{"orient":"right","values":[0,0.0075,0.015,0.0225,0.03,0.0375,0.045],"format":".3f","labelExpr":"round(datum.value*10000) % 150 == 0 ? datum.label : ''","tickSize":{"condition":{"test":"round(datum.value*10000) % 150 == 0","value":-6},"value":-3},"labelPadding":10,"labelOverlap":false,"title":null}}}},
{"data":{"name":"m5"},"transform":[{"filter":"datum.s=='h2o' || datum.s=='co2'"}],"mark":{"type":"line","color":"#111","strokeWidth":1.4,"interpolate":"monotone"},
"encoding":{"x":{"field":"x","type":"quantitative","scale":{"domain":[-5.1,10.1],"nice":false,"zero":false},"axis":null},"y":{"field":"y","type":"quantitative","scale":{"domain":[-0.0024,0.045],"nice":false,"zero":false},"axis":null},"detail":{"field":"s"}}},
{"data":{"name":"lab"},"transform":[{"filter":"datum.p=='BL' && datum.k=='b'"}],"mark":{"type":"text","font":"Liberation Sans","fontWeight":"bold","fontSize":30,"color":"#111","align":"center","baseline":"middle"},
"encoding":{"x":{"field":"x","type":"quantitative","scale":{"domain":[-5.1,10.1],"nice":false,"zero":false},"axis":null},"y":{"field":"y","type":"quantitative","scale":{"domain":[-0.0024,0.045],"nice":false,"zero":false},"axis":null},"text":{"field":"t"}}},
{"data":{"name":"lab"},"transform":[{"filter":"datum.p=='BL' && datum.k=='s'"}],"mark":{"type":"text","font":"Liberation Sans","fontWeight":"bold","fontSize":17,"color":"#111","align":"center","baseline":"middle"},
"encoding":{"x":{"field":"x","type":"quantitative","scale":{"domain":[-5.1,10.1],"nice":false,"zero":false},"axis":null},"y":{"field":"y","type":"quantitative","scale":{"domain":[-0.0024,0.045],"nice":false,"zero":false},"axis":null},"text":{"field":"t"}}}
]},
{"width":397,"height":200,
"resolve":{"scale":{"y":"independent"},"axis":{"x":"independent","y":"independent"}},
"layer":[
{"data":{"values":[{"x":0},{"x":1}]},"mark":{"type":"rule","strokeDash":[1.5,1.5],"color":"#222","strokeWidth":1},
"encoding":{"x":{"field":"x","type":"quantitative","scale":{"domain":[-5.1,10.1],"nice":false,"zero":false},"axis":{"orient":"bottom","values":[-5,-4.5,-4,-3.5,-3,-2.5,-2,-1.5,-1,-0.5,0,0.5,1,1.5,2,2.5,3,3.5,4,4.5,5,5.5,6,6.5,7,7.5,8,8.5,9,9.5,10],"labelExpr":"datum.value % 1 == 0 ? toString(datum.value) : ''","tickSize":{"condition":{"test":"datum.value % 1 == 0","value":-6},"value":-3},"labelPadding":10,"labelFlush":false,"labelOverlap":false,"title":"position / mm","titleFontSize":19,"titlePadding":24}}}},
{"data":{"name":"e10"},"mark":{"type":"point","shape":"diamond","size":90,"filled":false,"color":"#222","opacity":1,"strokeWidth":1.1},
"encoding":{"x":{"field":"x","type":"quantitative","scale":{"domain":[-5.1,10.1],"nice":false,"zero":false},"axis":{"orient":"top","values":[-5,-4.5,-4,-3.5,-3,-2.5,-2,-1.5,-1,-0.5,0,0.5,1,1.5,2,2.5,3,3.5,4,4.5,5,5.5,6,6.5,7,7.5,8,8.5,9,9.5,10],"labels":false,"tickSize":{"condition":{"test":"datum.value % 1 == 0","value":-6},"value":-3},"title":null}},
"y":{"field":"h2o","type":"quantitative","scale":{"domain":[-0.0048,0.0905],"nice":false,"zero":false},"axis":{"orient":"left","values":[0,0.015,0.03,0.045,0.06,0.075,0.09],"format":".2f","labelExpr":"round(datum.value*1000) % 30 == 0 ? datum.label : ''","tickSize":{"condition":{"test":"round(datum.value*1000) % 30 == 0","value":-6},"value":-3},"labelPadding":10,"labelOverlap":false,"title":null}}}},
{"data":{"name":"e10"},"mark":{"type":"point","shape":"circle","size":72,"filled":false,"color":"#222","opacity":1,"strokeWidth":1.1},
"encoding":{"x":{"field":"x","type":"quantitative","scale":{"domain":[-5.1,10.1],"nice":false,"zero":false},"axis":null},"y":{"field":"co2","type":"quantitative","scale":{"domain":[-0.0048,0.0905],"nice":false,"zero":false},"axis":{"orient":"right","values":[0,0.015,0.03,0.045,0.06,0.075,0.09],"format":".2f","labelExpr":"round(datum.value*1000) % 30 == 0 ? datum.label : ''","tickSize":{"condition":{"test":"round(datum.value*1000) % 30 == 0","value":-6},"value":-3},"labelPadding":10,"labelOverlap":false,"title":null}}}},
{"data":{"name":"m10"},"transform":[{"filter":"datum.s=='h2o' || datum.s=='co2'"}],"mark":{"type":"line","color":"#111","strokeWidth":1.4,"interpolate":"monotone"},
"encoding":{"x":{"field":"x","type":"quantitative","scale":{"domain":[-5.1,10.1],"nice":false,"zero":false},"axis":null},"y":{"field":"y","type":"quantitative","scale":{"domain":[-0.0048,0.0905],"nice":false,"zero":false},"axis":null},"detail":{"field":"s"}}},
{"data":{"name":"lab"},"transform":[{"filter":"datum.p=='BR' && datum.k=='b'"}],"mark":{"type":"text","font":"Liberation Sans","fontWeight":"bold","fontSize":30,"color":"#111","align":"center","baseline":"middle"},
"encoding":{"x":{"field":"x","type":"quantitative","scale":{"domain":[-5.1,10.1],"nice":false,"zero":false},"axis":null},"y":{"field":"y","type":"quantitative","scale":{"domain":[-0.0048,0.0905],"nice":false,"zero":false},"axis":null},"text":{"field":"t"}}},
{"data":{"name":"lab"},"transform":[{"filter":"datum.p=='BR' && datum.k=='s'"}],"mark":{"type":"text","font":"Liberation Sans","fontWeight":"bold","fontSize":17,"color":"#111","align":"center","baseline":"middle"},
"encoding":{"x":{"field":"x","type":"quantitative","scale":{"domain":[-5.1,10.1],"nice":false,"zero":false},"axis":null},"y":{"field":"y","type":"quantitative","scale":{"domain":[-0.0048,0.0905],"nice":false,"zero":false},"axis":null},"text":{"field":"t"}}},
{"data":{"name":"lab"},"transform":[{"filter":"datum.p=='BR' && datum.k=='m'"}],"mark":{"type":"text","font":"Liberation Sans","fontWeight":"bold","fontSize":14,"color":"#111","align":"center","baseline":"middle"},
"encoding":{"x":{"field":"x","type":"quantitative","scale":{"domain":[-5.1,10.1],"nice":false,"zero":false},"axis":null},"y":{"field":"y","type":"quantitative","scale":{"domain":[-0.0048,0.0905],"nice":false,"zero":false},"axis":null},"text":{"field":"t"}}},
{"data":{"values":[{"x":7.47,"y":0.0256}]},"mark":{"type":"point","shape":"M1,0 C1,0.3424 0.5523,0.62 0,0.62 C-0.5523,0.62 -1,0.3424 -1,0 C-1,-0.3424 -0.5523,-0.62 0,-0.62 C0.5523,-0.62 1,-0.3424 1,0 Z","size":5329,"filled":false,"color":"#333","opacity":1,"strokeWidth":1.2,"strokeDash":[2,2]},
"encoding":{"x":{"field":"x","type":"quantitative","scale":{"domain":[-5.1,10.1],"nice":false,"zero":false},"axis":null},"y":{"field":"y","type":"quantitative","scale":{"domain":[-0.0048,0.0905],"nice":false,"zero":false},"axis":null}}},
{"data":{"values":[{"x":7.47,"y":0.0445,"x2":7.47,"y2":0.037}]},"mark":{"type":"rule","strokeDash":[2,2],"color":"#333","strokeWidth":1.2},
"encoding":{"x":{"field":"x","type":"quantitative","scale":{"domain":[-5.1,10.1],"nice":false,"zero":false},"axis":null},"y":{"field":"y","type":"quantitative","scale":{"domain":[-0.0048,0.0905],"nice":false,"zero":false},"axis":null},"x2":{"field":"x2"},"y2":{"field":"y2"}}}
]}
]
}
